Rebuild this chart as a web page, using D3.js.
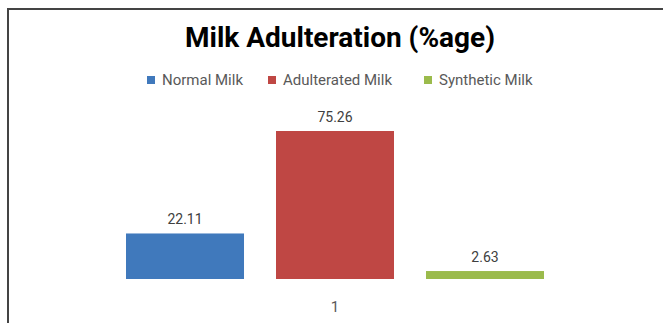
<html>
<script src='https://d3js.org/d3.v7.min.js'></script>
<style> body {
  margin: 0;
  background-color: #ffffff
}
text {
  font-family: Roboto, sans-serif;
}
</style>
<body onload='init()'>

<script>
// chart values
var categories = ["1"];
var seriesNames = ["Normal Milk", "Adulterated Milk", "Synthetic Milk"];
var seriesValues = [22.11, 75.26, 2.63];
var seriesColors = ["#4079BC", "#BF4744", "#9BBB4C"];

function init() {

var width = 663, height = 323;

var svg = d3.select('body').append("svg")
    .attr("width", width)
    .attr("height", height);

// chart frame (runs off the right and bottom of the picture)
svg.append("rect")
    .attr("x", 8)
    .attr("y", 9)
    .attr("width", 700)
    .attr("height", 400)
    .style("fill", "none")
    .style("stroke", "#444")
    .style("stroke-width", 2);

svg.append("text")
    .attr("x", 340)
    .attr("y", 47)
    .attr("text-anchor", "middle")
    .style("font-size", "28px")
    .style("font-weight", "bold")
    .attr("fill", "#000")
    .text("Milk Adulteration (%age)");

var data = seriesNames.map(function(n, i) {
  return {name: n, value: seriesValues[i], color: seriesColors[i]};
});

//Set up scales
var x0 = d3.scaleBand().domain(categories).range([110, 560]);
var x1 = d3.scaleBand().domain(seriesNames).range([0, x0.bandwidth()]).paddingInner(0.2133).paddingOuter(0.1067);
var y = d3.scaleLinear().domain([-1.5, 75.26]).range([279, 131]);

var group = svg.selectAll(".group")
    .data(categories)
    .enter().append("g")
    .attr("class", "group")
    .attr("transform", function(d) { return "translate(" + x0(d) + ",0)"; });

group.selectAll(".bar")
    .data(data)
    .enter().append("rect")
    .attr("class", "bar")
    .attr("x", function(d) { return x1(d.name); })
    .attr("width", x1.bandwidth())
    .attr("y", function(d) { return y(d.value); })
    .attr("height", function(d) { return y(-1.5) - y(d.value); })
    .style("fill", function(d) { return d.color; });

group.selectAll(".label")
    .data(data)
    .enter().append("text")
    .attr("class", "label")
    .attr("x", function(d) { return x1(d.name) + x1.bandwidth() / 2; })
    .attr("y", function(d) { return y(d.value) - 9; })
    .attr("text-anchor", "middle")
    .style("font-size", "14px")
    .attr("fill", "#404040")
    .text(function(d) { return d.value.toFixed(2); });

// category axis, no line
var xAxis = svg.append("g")
    .attr("transform", "translate(0,279)")
    .call(d3.axisBottom(x0).tickSize(0).tickPadding(22));
xAxis.select(".domain").remove();
xAxis.selectAll("text")
    .style("font-family", "Roboto, sans-serif")
    .style("font-size", "15px")
    .attr("fill", "#595959");

// legend
var legendX = [147, 268, 424];
var legend = svg.selectAll(".legend")
    .data(data)
    .enter().append("g")
    .attr("class", "legend")
    .attr("transform", function(d, i) { return "translate(" + legendX[i] + ",76)"; });

legend.append("rect")
    .attr("width", 8)
    .attr("height", 8)
    .style("fill", function(d) { return d.color; });

legend.append("text")
    .attr("x", 15)
    .attr("y", 9)
    .style("font-size", "15px")
    .attr("fill", "#595959")
    .text(function(d) { return d.name; });

}
</script>
</body>
</html>
